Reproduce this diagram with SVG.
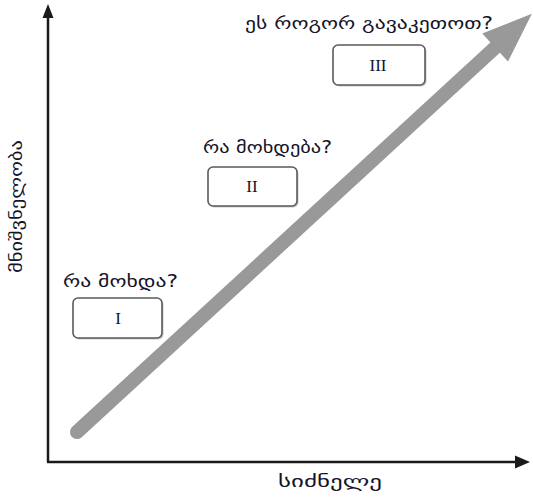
<svg xmlns="http://www.w3.org/2000/svg" width="533" height="497" viewBox="0 0 533 497">
<style>
.geo{font-family:"DejaVu Sans","Noto Sans",sans-serif;fill:#141428;font-size:17px;}
.num{font-family:"Liberation Serif",serif;font-size:17px;fill:#141428;text-anchor:middle;}
.box{fill:#fff;stroke:#5a5a5a;stroke-width:1.6;}
.shadow{fill:#c8c8c8;}
.axis{stroke:#1a1a1a;stroke-width:2.5;fill:none;}
</style>
<rect width="533" height="497" fill="#fff"/>
<g id="connectors">
<g id="trend-arrow" transform="translate(77,432) rotate(-42.6)">
<line x1="0" y1="0" x2="575" y2="0" stroke="#999" stroke-width="14" stroke-linecap="round"/>
<polygon points="568,-19 618,0 568,19" fill="#999"/>
</g>
<g id="y-axis">
<line class="axis" x1="48" y1="462" x2="48" y2="16"/>
<polygon points="42.5,18 48,4 53.5,18" fill="#1a1a1a"/>
</g>
<g id="x-axis">
<line class="axis" x1="47" y1="462" x2="518" y2="462"/>
<polygon points="515,455.5 530,462 515,468.5" fill="#1a1a1a"/>
</g>
</g>
<g id="node-I">
<rect class="shadow" x="74.5" y="299.5" width="89" height="40" rx="5"/>
<rect class="box" x="73" y="298" width="89" height="40" rx="5"/>
<text class="num" x="118" y="324">I</text>
<text class="geo" x="63" y="287" textLength="115" lengthAdjust="spacingAndGlyphs">რა მოხდა?</text>
</g>
<g id="node-II">
<rect class="shadow" x="209.5" y="168.5" width="89" height="39" rx="5"/>
<rect class="box" x="208" y="167" width="89" height="39" rx="5"/>
<text class="num" x="252" y="192">II</text>
<text class="geo" x="203" y="153" textLength="129" lengthAdjust="spacingAndGlyphs">რა მოხდება?</text>
</g>
<g id="node-III">
<rect class="shadow" x="334.5" y="46.5" width="92" height="40" rx="5"/>
<rect class="box" x="333" y="45" width="92" height="40" rx="5"/>
<text class="num" x="378" y="71">III</text>
<text class="geo" x="245" y="29" textLength="248" lengthAdjust="spacingAndGlyphs">ეს როგორ გავაკეთოთ?</text>
</g>
<g id="axis-labels">
<text class="geo" x="278" y="487" textLength="104" lengthAdjust="spacingAndGlyphs">სიძნელე</text>
<text class="geo" transform="translate(22,273) rotate(-90)" textLength="133" lengthAdjust="spacingAndGlyphs">მნიშვნელობა</text>
</g>
</svg>
